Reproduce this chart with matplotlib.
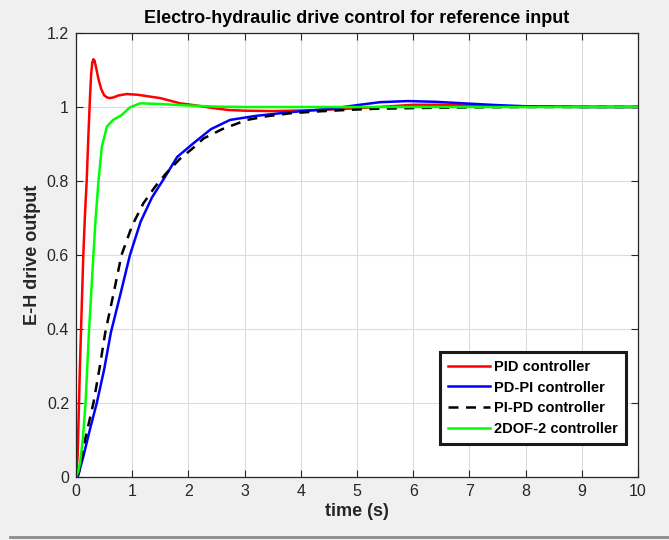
import matplotlib
matplotlib.use('Agg')
import matplotlib.pyplot as plt
from matplotlib.lines import Line2D

# values
t_pid = [0, 0.03, 0.07, 0.1, 0.13, 0.16, 0.19, 0.22, 0.25, 0.27, 0.29, 0.31, 0.33, 0.36, 0.4, 0.45,
         0.5, 0.55, 0.6, 0.67, 0.75, 0.9, 1.1, 1.5, 1.85, 2.1, 2.4, 2.7, 3.0, 3.5, 4.2, 4.8, 5.4,
         6.0, 6.5, 7.0, 8.0, 10]
y_pid = [0, 0.06, 0.3, 0.45, 0.6, 0.71, 0.8, 0.92, 1.03, 1.09, 1.12, 1.129, 1.125, 1.105, 1.075, 1.048,
         1.032, 1.026, 1.024, 1.026, 1.031, 1.035, 1.033, 1.024, 1.01, 1.005, 0.998, 0.992, 0.99, 0.989,
         0.991, 0.995, 1.0, 1.006, 1.006, 1.004, 1.001, 1.0]

t_pdpi = [0, 0.03, 0.13, 0.25, 0.37, 0.5, 0.62, 0.8, 0.96, 1.15, 1.35, 1.58, 1.8, 2.09, 2.4, 2.74,
          3.2, 3.63, 4.1, 4.52, 5.0, 5.41, 5.9, 6.4, 7.0, 7.5, 8.0, 9.0, 10]
y_pdpi = [0, 0, 0.055, 0.13, 0.2, 0.29, 0.39, 0.5, 0.6, 0.69, 0.755, 0.81, 0.865, 0.902, 0.94, 0.965,
          0.976, 0.983, 0.99, 0.995, 1.005, 1.013, 1.016, 1.014, 1.009, 1.005, 1.002, 1.0, 1.0]

t_pipd = [0, 0.05, 0.16, 0.31, 0.42, 0.52, 0.66, 0.81, 1.0, 1.2, 1.41, 1.6, 1.85, 2.09, 2.27, 2.6,
          3.04, 3.4, 3.81, 4.3, 4.82, 5.29, 6.0, 7.0, 8.0, 10]
y_pipd = [0, 0.01, 0.1, 0.2, 0.295, 0.39, 0.49, 0.6, 0.68, 0.74, 0.785, 0.82, 0.86, 0.89, 0.915, 0.94,
          0.965, 0.975, 0.983, 0.988, 0.992, 0.995, 0.997, 0.999, 1.0, 1.0]

t_2dof = [0, 0.04, 0.07, 0.12, 0.17, 0.23, 0.31, 0.35, 0.4, 0.46, 0.55, 0.66, 0.81, 0.96, 1.14,
          1.5, 2.0, 2.5, 3.0, 10]
y_2dof = [0, 0.015, 0.037, 0.1, 0.2, 0.39, 0.6, 0.7, 0.8, 0.893, 0.947, 0.965, 0.978, 0.999, 1.01,
          1.008, 1.004, 1.001, 1.0, 1.0]

labels = ['PID controller', 'PD-PI controller', 'PI-PD controller', '2DOF-2 controller']
xticks = list(range(0, 11))
yticks = [0, 0.2, 0.4, 0.6, 0.8, 1, 1.2]
ytick_labels = ['0', '0.2', '0.4', '0.6', '0.8', '1', '1.2']

plt.rcParams['font.family'] = ['Liberation Sans', 'DejaVu Sans']
dark = '#262626'

fig = plt.figure(figsize=(6.69, 5.4), dpi=100, facecolor='#f0f0f0')
ax = fig.add_axes([0.1136, 0.1167, 0.8401, 0.8222])
ax.set_facecolor('white')

ax.plot(t_pid, y_pid, color='red', lw=1.8, label=labels[0], solid_joinstyle='round')
ax.plot(t_pdpi, y_pdpi, color='blue', lw=1.8, label=labels[1], solid_joinstyle='round')
ax.plot(t_pipd, y_pipd, color='black', lw=1.8, ls=(0, (4, 3)), label=labels[2])
ax.plot(t_2dof, y_2dof, color='#00ff00', lw=1.8, label=labels[3], solid_joinstyle='round')

ax.set_xlim(0, 10)
ax.set_ylim(0, 1.2)
ax.set_xticks(xticks)
ax.set_yticks(yticks)
ax.set_yticklabels(ytick_labels)
ax.tick_params(direction='in', top=True, right=True, length=5, width=0.8,
               colors=dark, labelsize=11.5, pad=5)
ax.grid(True, color='#dcdcdc', lw=0.8)
ax.set_axisbelow(True)
for s in ax.spines.values():
    s.set_color(dark)
    s.set_linewidth(0.9)

ax.set_title('Electro-hydraulic drive control for reference input', fontsize=13,
             fontweight='bold', color='black', pad=7)
ax.set_xlabel('time (s)', fontsize=13, fontweight='bold', color=dark, labelpad=3)
ax.set_ylabel('E-H drive output', fontsize=13, fontweight='bold', color=dark, labelpad=4)

leg = ax.legend(loc='lower right', bbox_to_anchor=(0.978, 0.075), fancybox=False,
                framealpha=1, edgecolor='#1a1a1a', prop={'weight': 'bold', 'size': 10.5},
                handlelength=2.9, handletextpad=0.25, labelspacing=0.45, borderpad=0.55,
                borderaxespad=0)
leg.get_frame().set_linewidth(2.2)

# grey rule along the bottom of the window
fig.add_artist(Line2D([0.015, 1.0], [0.006, 0.006], color='#8c8c8c', lw=2))

fig.savefig('out.png', dpi=100, facecolor=fig.get_facecolor())
